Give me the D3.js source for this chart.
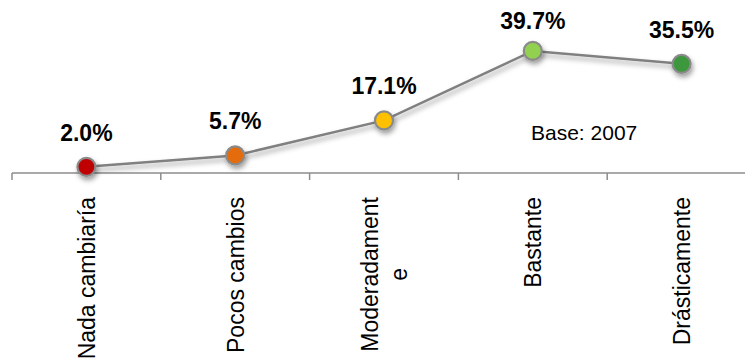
<!DOCTYPE html>
<html>
<head>
<meta charset="utf-8">
<script src="https://cdn.jsdelivr.net/npm/d3@7"></script>
<style>
  html, body { margin: 0; padding: 0; background: #fff; }
  svg { display: block; font-family: "Liberation Sans", Arial, sans-serif; }
</style>
</head>
<body>
<svg id="chart" width="745" height="364"></svg>
<script>
const categories = ["Nada cambiaría", "Pocos cambios", "Moderadamente", "Bastante", "Drásticamente"];
const categoryLines = [["Nada cambiaría"], ["Pocos cambios"], ["Moderadament", "e"], ["Bastante"], ["Drásticamente"]];
const values = [2.0, 5.7, 17.1, 39.7, 35.5];
const valueLabels = ["2.0%", "5.7%", "17.1%", "39.7%", "35.5%"];
const pointColors = ["#C00000", "#E46C0A", "#FFC000", "#92D050", "#3C973C"];
const note = "Base: 2007";

const svg = d3.select("#chart");
const W = 745, H = 364;

const x = d3.scaleBand().domain(categories).range([12, 756]).paddingInner(0).paddingOuter(0);
const y = d3.scaleLinear().domain([0, 40]).range([173, 50]);
const cx = c => x(c) + x.bandwidth() / 2;

const defs = svg.append("defs");
const f = defs.append("filter").attr("id", "shadow")
  .attr("x", "-50%").attr("y", "-50%").attr("width", "200%").attr("height", "250%");
f.append("feDropShadow").attr("dx", 1.5).attr("dy", 3.5).attr("stdDeviation", 2.5)
  .attr("flood-color", "#000").attr("flood-opacity", 0.38);

// axis
const axisG = svg.append("g").attr("transform", `translate(0,${y(0)})`)
  .call(d3.axisBottom(x).tickSize(0).tickFormat(""));
axisG.select(".domain").attr("stroke", "#8c8c8c").attr("stroke-width", 1.5)
  .attr("d", `M${x.range()[0]},0H${W}`);
const bounds = categories.map(c => x(c)).concat([x.range()[1]]);
axisG.selectAll("line.bt").data(bounds).join("line").attr("class", "bt")
  .attr("x1", d => d).attr("x2", d => d).attr("y1", 0).attr("y2", 7)
  .attr("stroke", "#8c8c8c").attr("stroke-width", 1.5);

// category labels (rotated)
const labTop = 197;
categories.forEach((c, i) => {
  const lines = categoryLines[i];
  const n = lines.length;
  const lh = 28.5;
  const g = svg.append("g").attr("transform", `translate(${cx(c)},${labTop}) rotate(-90)`);
  const first = g.append("text").attr("text-anchor", "end")
    .attr("font-size", 23).attr("fill", "#000")
    .attr("y", 8.5 - (n - 1) * lh / 2)
    .text(lines[0]);
  if (n > 1) {
    const w = first.node().getComputedTextLength();
    for (let k = 1; k < n; k++) {
      g.append("text").attr("text-anchor", "middle")
        .attr("font-size", 23).attr("fill", "#000")
        .attr("x", -w / 2)
        .attr("y", 8.5 - (n - 1) * lh / 2 + k * lh)
        .text(lines[k]);
    }
  }
});

// line
const line = d3.line().x((d, i) => cx(categories[i])).y(d => y(d));
svg.append("path").datum(values)
  .attr("d", line).attr("fill", "none")
  .attr("stroke", "#808080").attr("stroke-width", 2.5)
  .attr("filter", "url(#shadow)");

// points
svg.selectAll("circle.pt").data(values).join("circle").attr("class", "pt")
  .attr("cx", (d, i) => cx(categories[i])).attr("cy", d => y(d))
  .attr("r", 9)
  .attr("fill", (d, i) => pointColors[i])
  .attr("stroke", "#8a8a8a").attr("stroke-width", 2.2)
  .attr("filter", "url(#shadow)");

// value labels
svg.selectAll("text.vl").data(values).join("text").attr("class", "vl")
  .attr("x", (d, i) => cx(categories[i]))
  .attr("y", d => Math.max(y(d) - 26, 29))
  .attr("text-anchor", "middle")
  .attr("font-size", 23).attr("font-weight", "bold").attr("fill", "#000")
  .text((d, i) => valueLabels[i]);

// note
svg.append("text").attr("x", 531).attr("y", 140)
  .attr("font-size", 21).attr("fill", "#000").text(note);
</script>
</body>
</html>
